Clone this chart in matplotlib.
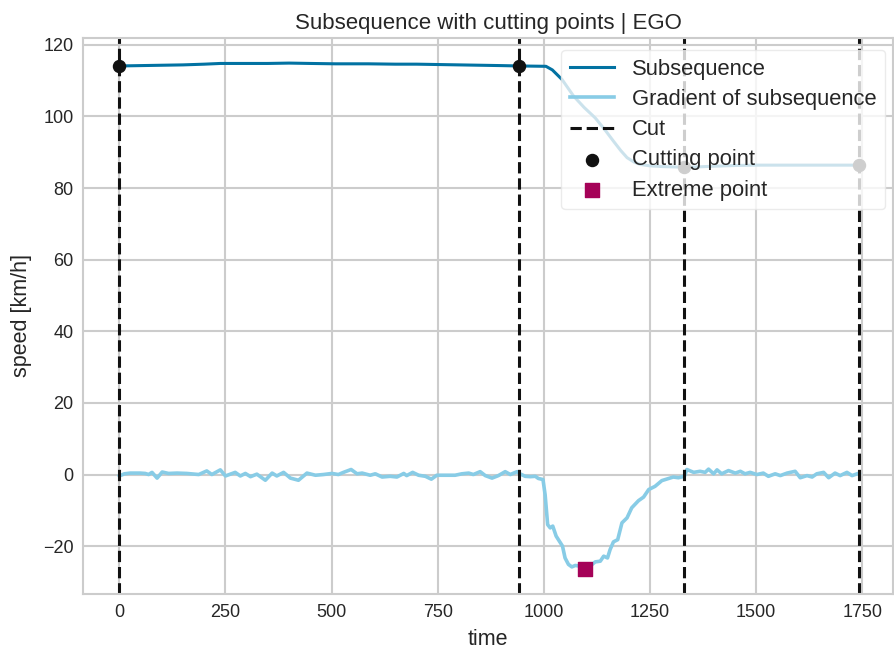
import matplotlib
matplotlib.use("Agg")
import matplotlib.pyplot as plt
import numpy as np

plt.rcParams['font.family'] = ['Liberation Sans', 'DejaVu Sans']

# speed of the ego vehicle (km/h) over the subsequence
speed_t = [0, 50, 100, 150, 200, 238, 300, 350, 400, 450, 509, 586, 650, 700,
           750, 800, 850, 900, 942, 1005, 1020, 1043, 1070, 1095, 1121, 1143,
           1164, 1181, 1196, 1212, 1227, 1250, 1280, 1310, 1331, 1360, 1400,
           1450, 1500, 1600, 1700, 1743]
speed = [114.1, 114.2, 114.3, 114.4, 114.6, 114.8, 114.8, 114.8, 114.9, 114.8,
         114.7, 114.7, 114.6, 114.6, 114.5, 114.4, 114.3, 114.2, 114.1, 114.0,
         113.0, 110.3, 105.7, 102.5, 99.6, 96.4, 93.1, 90.5, 88.5, 87.3, 86.6,
         86.2, 86.0, 85.9, 85.8, 85.9, 86.1, 86.3, 86.4, 86.4, 86.4, 86.4]

# gradient of the speed signal
grad_t = [0, 12, 26, 49, 61, 69, 77, 89, 101, 116, 136, 159, 187, 206, 218,
          238, 250, 273, 285, 297, 309, 324, 344, 360, 371, 387, 403, 422, 442,
          462, 481, 501, 516, 528, 546, 560, 572, 591, 603, 619, 638, 654, 670,
          677, 691, 705, 721, 735, 748, 768, 791, 807, 823, 834, 850, 862, 878,
          893, 909, 921, 937, 942, 956, 968, 980, 987, 998, 1003, 1009, 1015,
          1021, 1029, 1039, 1044, 1050, 1058, 1066, 1074, 1086, 1097, 1109,
          1121, 1133, 1141, 1150, 1156, 1164, 1174, 1184, 1196, 1207, 1223,
          1235, 1247, 1262, 1278, 1294, 1305, 1317, 1331, 1337, 1353, 1368,
          1380, 1388, 1400, 1408, 1419, 1435, 1451, 1463, 1474, 1486, 1502,
          1517, 1529, 1545, 1557, 1573, 1592, 1604, 1620, 1632, 1643, 1659,
          1671, 1686, 1698, 1714, 1726, 1743]
grad = [-0.4, 0.2, 0.4, 0.4, 0.3, 0.0, 0.6, -1.0, 0.7, 0.3, 0.4, 0.3, 0.0, 1.0,
        0.0, 1.3, -0.4, 0.6, -0.4, 0.3, -0.6, 0.1, -1.6, 0.4, -0.4, 0.6, -1.0,
        -1.6, 0.4, -0.2, 0.0, 0.3, 0.0, 0.6, 1.4, 0.2, 0.4, -0.2, 0.2, -0.7,
        -0.5, -0.7, 0.3, -0.3, 0.6, -0.2, -0.5, -1.3, -0.2, -0.2, -0.2, 0.2,
        0.4, 0.0, 0.8, -0.3, -1.0, -0.3, 0.8, 0.0, 0.8, 0.3, -0.5, -0.6, -0.5,
        -1.1, -1.4, -5.6, -14.0, -14.9, -14.4, -17.2, -19.1, -20.0, -23.3,
        -25.1, -25.8, -25.4, -25.6, -26.3, -25.6, -24.4, -24.2, -22.8, -23.3,
        -21.0, -18.8, -18.2, -13.5, -12.1, -9.3, -7.3, -6.3, -4.2, -3.3, -1.7,
        -1.1, -0.7, -0.9, -0.5, 1.4, 0.6, 0.9, 0.6, 1.5, 0.2, 1.3, 0.2, 1.1,
        0.4, 0.9, 0.2, 0.6, 0.0, 0.4, -0.5, 0.2, -0.3, 0.4, 0.9, -0.9, -0.3,
        -0.7, 0.2, 0.6, -0.9, 0.4, -0.3, 0.6, -0.3, 0.4]

cuts = [0, 942, 1331, 1743]

BLUE = '#0272a2'
LIGHT = '#88cce6'
MAGENTA = '#a50258'
GREY = '#cccccc'
TEXT = '#262626'

fig = plt.figure(figsize=(8.95, 6.52), dpi=100)
ax = fig.add_axes([0.093, 0.089, 0.905, 0.853])
ax.set_facecolor('white')
ax.grid(True, color=GREY, linewidth=1.5)
ax.set_axisbelow(True)
for s in ax.spines.values():
    s.set_color(GREY)
    s.set_linewidth(1.5)
ax.tick_params(length=0, labelsize=13, colors=TEXT, pad=7)

ax.plot(speed_t, speed, color=BLUE, lw=2.2, label='Subsequence')
ax.plot(grad_t, grad, color=LIGHT, lw=2.6, label='Gradient of subsequence')

for i, c in enumerate(cuts):
    ax.axvline(c, color='#111111', ls='--', lw=2.2, label='Cut' if i == 0 else None)

cut_y = [speed[speed_t.index(c)] for c in cuts]
ax.scatter(cuts, cut_y, s=75, color='#111111', zorder=5, label='Cutting point')

k = int(np.argmin(grad))
ax.scatter([grad_t[k]], [grad[k]], s=90, marker='s', color=MAGENTA, zorder=5,
           label='Extreme point')

ax.set_xlim(-85, 1823)
ax.set_xticks([0, 250, 500, 750, 1000, 1250, 1500, 1750])
ax.set_yticks([-20, 0, 20, 40, 60, 80, 100, 120])
ax.set_xlabel('time', fontsize=15.5, color=TEXT, labelpad=6)
ax.set_ylabel('speed [km/h]', fontsize=15.5, color=TEXT, labelpad=8)
ax.set_title('Subsequence with cutting points | EGO', fontsize=16, color=TEXT)

leg = ax.legend(loc='upper right', bbox_to_anchor=(0.99, 0.978),
                borderaxespad=0, fontsize=15.8, scatterpoints=1,
                framealpha=0.8, edgecolor='#e6e6e6', fancybox=True,
                handlelength=2.0, labelspacing=0.42)
for t in leg.get_texts():
    t.set_color(TEXT)

fig.savefig('out.png', dpi=100)
